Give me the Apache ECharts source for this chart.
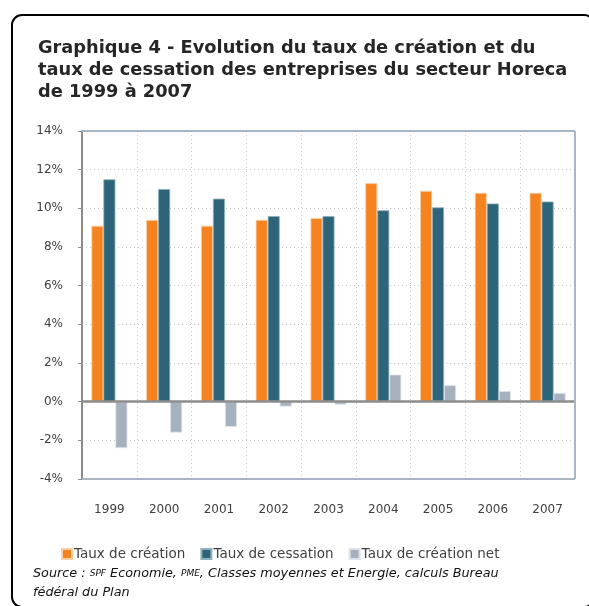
<!DOCTYPE html>
<html>
<head>
<meta charset="utf-8">
<script src="https://cdn.jsdelivr.net/npm/echarts@6/dist/echarts.min.js"></script>
<style>
  html, body { margin: 0; padding: 0; background: #fff; }
  #main { width: 589px; height: 606px; }
</style>
</head>
<body>
<div id="main"></div>
<script>
// annees et taux (en %)
var years = ['1999', '2000', '2001', '2002', '2003', '2004', '2005', '2006', '2007'];
var creation = [9.1, 9.4, 9.1, 9.4, 9.5, 11.3, 10.9, 10.8, 10.8];
var cessation = [11.5, 11.0, 10.5, 9.6, 9.6, 9.9, 10.05, 10.25, 10.35];
var creationNet = [-2.4, -1.6, -1.3, -0.25, -0.15, 1.4, 0.85, 0.55, 0.45];
var seriesNames = ['Taux de création', 'Taux de cessation', 'Taux de création net'];
var colors = ['#F5831F', '#2D6479', '#A6B1BE'];

var chart = echarts.init(document.getElementById('main'));

var txt = '#404040';
var font = '"DejaVu Sans", sans-serif';

chart.setOption({
  animation: false,
  color: colors,
  title: {
    text: 'Graphique 4 - Evolution du taux de création et du\ntaux de cessation des entreprises du secteur Horeca\nde 1999 à 2007',
    left: 33,
    top: 32,
    textStyle: {
      fontFamily: font,
      fontWeight: 'bold',
      fontSize: 17.8,
      lineHeight: 22,
      color: '#262626'
    }
  },
  legend: {
    top: 542,
    left: 56,
    itemWidth: 10,
    itemHeight: 10,
    itemGap: 15,
    icon: 'rect',
    textStyle: { fontFamily: font, fontSize: 13.5, color: txt, padding: [0, 0, 0, -3] },
    data: seriesNames
  },
  grid: { left: 82, top: 131, width: 493, height: 348, containLabel: false },
  xAxis: {
    type: 'category',
    data: years,
    axisLine: { show: false },
    axisTick: { show: false },
    axisLabel: { color: txt, fontFamily: font, fontSize: 12, margin: 25 },
    splitLine: { show: true, interval: 0, lineStyle: { color: '#c8c8c8', type: [1, 3], width: 1 } }
  },
  yAxis: {
    type: 'value',
    min: -4,
    max: 14,
    interval: 2,
    axisLine: { show: true, lineStyle: { color: '#8c8c8c', width: 2 } },
    axisTick: { show: true, length: 4, inside: false, lineStyle: { color: '#8c8c8c' } },
    axisLabel: { color: txt, fontFamily: font, fontSize: 12, margin: 19, formatter: '{value}%' },
    splitLine: { show: true, lineStyle: { color: '#c8c8c8', type: [1, 3], width: 1 } }
  },
  graphic: [
    {
      type: 'rect',
      shape: { x: 12, y: 15, width: 582, height: 592, r: 10 },
      style: { fill: 'none', stroke: '#000', lineWidth: 2 },
      silent: true
    },
    {
      type: 'text',
      left: 33,
      top: 567,
      style: {
        text: '{n|Source : }{s|SPF}{n| Economie, }{s|PME}{n|, Classes moyennes et Energie, calculs Bureau}\n{n|fédéral du Plan}',
        rich: {
          n: { fontFamily: font, fontStyle: 'italic', fontSize: 12.8, fill: '#111', lineHeight: 19 },
          s: { fontFamily: font, fontStyle: 'italic', fontSize: 9, fill: '#111', lineHeight: 19 }
        }
      }
    }
  ],
  series: [
    {
      name: seriesNames[0], type: 'bar', data: creation, barWidth: 12, barGap: '0%',
      itemStyle: { color: colors[0], borderColor: '#fbd0a8', borderWidth: 0.8 }
    },
    {
      name: seriesNames[1], type: 'bar', data: cessation, barWidth: 12, barGap: '0%',
      itemStyle: { color: colors[1], borderColor: '#8fb0bd', borderWidth: 0.8 }
    },
    {
      name: seriesNames[2], type: 'bar', data: creationNet, barWidth: 12, barGap: '0%',
      itemStyle: { color: colors[2], borderColor: '#dde3ea', borderWidth: 0.8 },
      markLine: {
        silent: true, symbol: 'none', label: { show: false },
        lineStyle: { color: '#8c8c8c', width: 2.5, type: 'solid' },
        data: [{ yAxis: 0 }]
      }
    },
    {
      // cadre clair haut / droite / bas de la zone de tracé
      type: 'line', data: [], silent: true,
      markLine: {
        silent: true, symbol: 'none', label: { show: false },
        lineStyle: { color: '#a9b6c6', width: 2, type: 'solid' },
        data: [
          { yAxis: 14 },
          { yAxis: -4 },
          [{ coord: ['2007', -4], x: 575 }, { coord: ['2007', 14], x: 575 }]
        ]
      }
    }
  ]
});
</script>
</body>
</html>
